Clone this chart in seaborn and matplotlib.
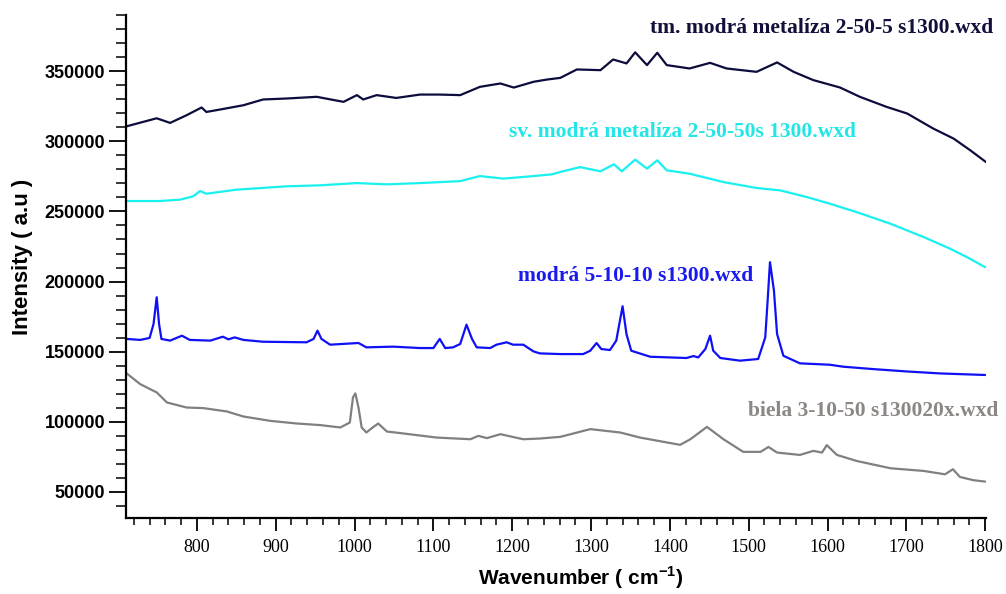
from matplotlib import pyplot as plt
from matplotlib.ticker import MultipleLocator
import pandas as pd
import seaborn as sns

tm_x = [711, 749, 766, 787, 806, 812, 829, 859, 884, 914, 952, 986, 1003, 1011, 1028,
        1053, 1083, 1108, 1134, 1159, 1185, 1202, 1227, 1244, 1261, 1282, 1312, 1328,
        1345, 1356, 1371, 1384, 1396, 1425, 1451, 1472, 1510, 1536, 1557, 1582, 1616,
        1641, 1675, 1701, 1734, 1760, 1781, 1801]
tm_y = [310700, 316400, 313100, 318600, 324100, 320900, 322600, 325700, 329800, 330500,
        331700, 328100, 332900, 329800, 332900, 330900, 333300, 333300, 332900, 338800,
        341200, 338300, 342400, 344000, 345200, 351200, 350700, 358300, 355500, 363400,
        354300, 363100, 354300, 351900, 355900, 351900, 349500, 356200, 349500, 343600,
        338300, 331700, 324500, 319800, 309100, 301900, 293600, 285200]

sv_x = [711, 753, 779, 795, 804, 812, 850, 914, 956, 1003, 1041, 1083, 1134, 1159, 1189,
        1223, 1250, 1261, 1286, 1312, 1329, 1339, 1356, 1371, 1384, 1396, 1425, 1468,
        1510, 1540, 1574, 1603, 1637, 1680, 1722, 1756, 1781, 1800]
sv_y = [257400, 257400, 258400, 260700, 264500, 262600, 265500, 267900, 268600, 270200,
        269300, 270200, 271600, 275200, 273400, 275000, 276400, 278100, 281600, 278600,
        283600, 278600, 286900, 280500, 286400, 279300, 276900, 270900, 266700, 265000,
        260200, 255500, 249500, 241200, 231700, 223300, 216200, 210200]

mo_x = [711, 728, 740, 745, 749, 752, 755, 766, 781, 791, 817, 833, 840, 848, 859, 884,
        939, 948, 953, 958, 969, 1005, 1015, 1049, 1083, 1100, 1108, 1115, 1125, 1134,
        1142, 1149, 1155, 1172, 1180, 1193, 1201, 1214, 1227, 1235, 1261, 1290, 1299,
        1307, 1313, 1324, 1332, 1340, 1345, 1351, 1375, 1421, 1430, 1436, 1445, 1451,
        1455, 1464, 1489, 1512, 1521, 1524, 1527, 1532, 1536, 1544, 1565, 1603, 1620,
        1658, 1701, 1743, 1800]
mo_y = [159100, 158400, 159800, 169800, 188800, 169800, 159100, 157900, 161400, 158400,
        157900, 160700, 158800, 160200, 158400, 157100, 156700, 159100, 165000, 159100,
        155000, 156200, 153100, 153600, 152600, 152600, 159100, 152600, 153100, 155500,
        169300, 159100, 153100, 152600, 155000, 156700, 155000, 155000, 150200, 148800,
        148300, 148300, 150700, 156200, 151900, 151200, 157900, 182400, 162400, 150700,
        146400, 145500, 146900, 145900, 151900, 161400, 150700, 145500, 143600, 144800,
        160200, 186400, 213800, 193600, 162600, 147100, 141700, 140700, 139300, 137600,
        135900, 134500, 133400]

bi_x = [711, 728, 745, 749, 762, 787, 808, 838, 859, 893, 927, 956, 982, 994, 998, 1001,
        1005, 1009, 1015, 1024, 1030, 1041, 1062, 1104, 1147, 1157, 1168, 1185, 1214,
        1235, 1261, 1299, 1337, 1362, 1413, 1426, 1447, 1468, 1493, 1515, 1525, 1536,
        1565, 1582, 1593, 1599, 1612, 1637, 1680, 1722, 1749, 1759, 1768, 1785, 1800]
bi_y = [134500, 126900, 122100, 121000, 113800, 110200, 109800, 107400, 103800, 100700,
        98800, 97700, 96000, 99500, 117400, 120300, 110200, 96000, 92400, 96400, 98800,
        93100, 91700, 88800, 87600, 90000, 88400, 91200, 87600, 88100, 89300, 94800,
        92400, 88800, 83600, 87600, 96400, 87600, 78600, 78600, 82100, 78100, 76400,
        79300, 78100, 83400, 76400, 72100, 66900, 65000, 62600, 66200, 60700, 58400, 57400]

names = ["tm. modrá metalíza 2-50-5 s1300.wxd", "sv. modrá metalíza 2-50-50s 1300.wxd",
         "modrá 5-10-10 s1300.wxd", "biela 3-10-50 s130020x.wxd"]
colors = ["#0d0d3d", "#19f0f0", "#1010f5", "#808080"]
text_colors = ["#10103a", "#22e6e6", "#1a1af0", "#8c8784"]

frames = []
for name, xs, ys in zip(names, [tm_x, sv_x, mo_x, bi_x], [tm_y, sv_y, mo_y, bi_y]):
    frames.append(pd.DataFrame({"Wavenumber": xs, "Intensity": ys, "Sample": name}))
data = pd.concat(frames, ignore_index=True)

sns.set_style("ticks", {"axes.edgecolor": "black", "xtick.color": "black",
                        "ytick.color": "black", "text.color": "black",
                        "axes.labelcolor": "black"})
plt.rcParams['mathtext.fontset'] = 'custom'
plt.rcParams['mathtext.rm'] = 'Liberation Sans:bold'
plt.rcParams['mathtext.bf'] = 'Liberation Sans:bold'

fig = plt.figure(figsize=(10.06, 5.94), dpi=100)
ax = fig.add_axes([0.1252, 0.1279, 0.8549, 0.8468])

sns.lineplot(data=data, x="Wavenumber", y="Intensity", hue="Sample",
             palette=dict(zip(names, colors)), sort=False, estimator=None,
             linewidth=1.6, legend=False, ax=ax)

ax.set_xlim(710, 1801)
ax.set_ylim(31430, 390000)
ax.xaxis.set_minor_locator(MultipleLocator(20))
ax.yaxis.set_minor_locator(MultipleLocator(10000))
ax.set_xticks(range(800, 1801, 100))
ax.set_yticks(range(50000, 350001, 50000))
ax.tick_params(axis='y', which='major', length=12, width=1.3, labelsize=13, pad=3,
               colors='black')
ax.tick_params(axis='y', which='minor', length=7, width=1.1, colors='black')
ax.tick_params(axis='x', which='major', length=9, width=1.3, labelsize=13, pad=6,
               colors='black')
ax.tick_params(axis='x', which='minor', length=5, width=1.1, colors='black')
for lab in ax.get_yticklabels():
    lab.set_fontfamily('Liberation Sans')
    lab.set_fontweight('bold')
for lab in ax.get_xticklabels():
    lab.set_fontfamily('Liberation Serif')

sns.despine(ax=ax)
ax.spines['left'].set_linewidth(1.6)
ax.spines['bottom'].set_linewidth(1.6)

ax.set_xlabel(r"Wavenumber ( cm$^{-1}$)", fontsize=15, fontweight='bold',
              fontfamily='Liberation Sans', color='black')
ax.set_ylabel("Intensity ( a.u )", fontsize=16, fontweight='bold',
              fontfamily='Liberation Sans', color='black')
ax.xaxis.set_label_coords(0.529, -0.093)
ax.yaxis.set_label_coords(-0.108, 0.52)

label_pos = [(1592, 380700), (1416, 306400), (1357, 204300), (1658, 107900)]
for name, c, (tx, ty) in zip(names, text_colors, label_pos):
    ax.text(tx, ty, name, color=c, fontsize=15.5, fontweight='bold',
            fontfamily='Liberation Serif', ha='center', va='center', clip_on=False)

plt.savefig("out.png", dpi=100)
